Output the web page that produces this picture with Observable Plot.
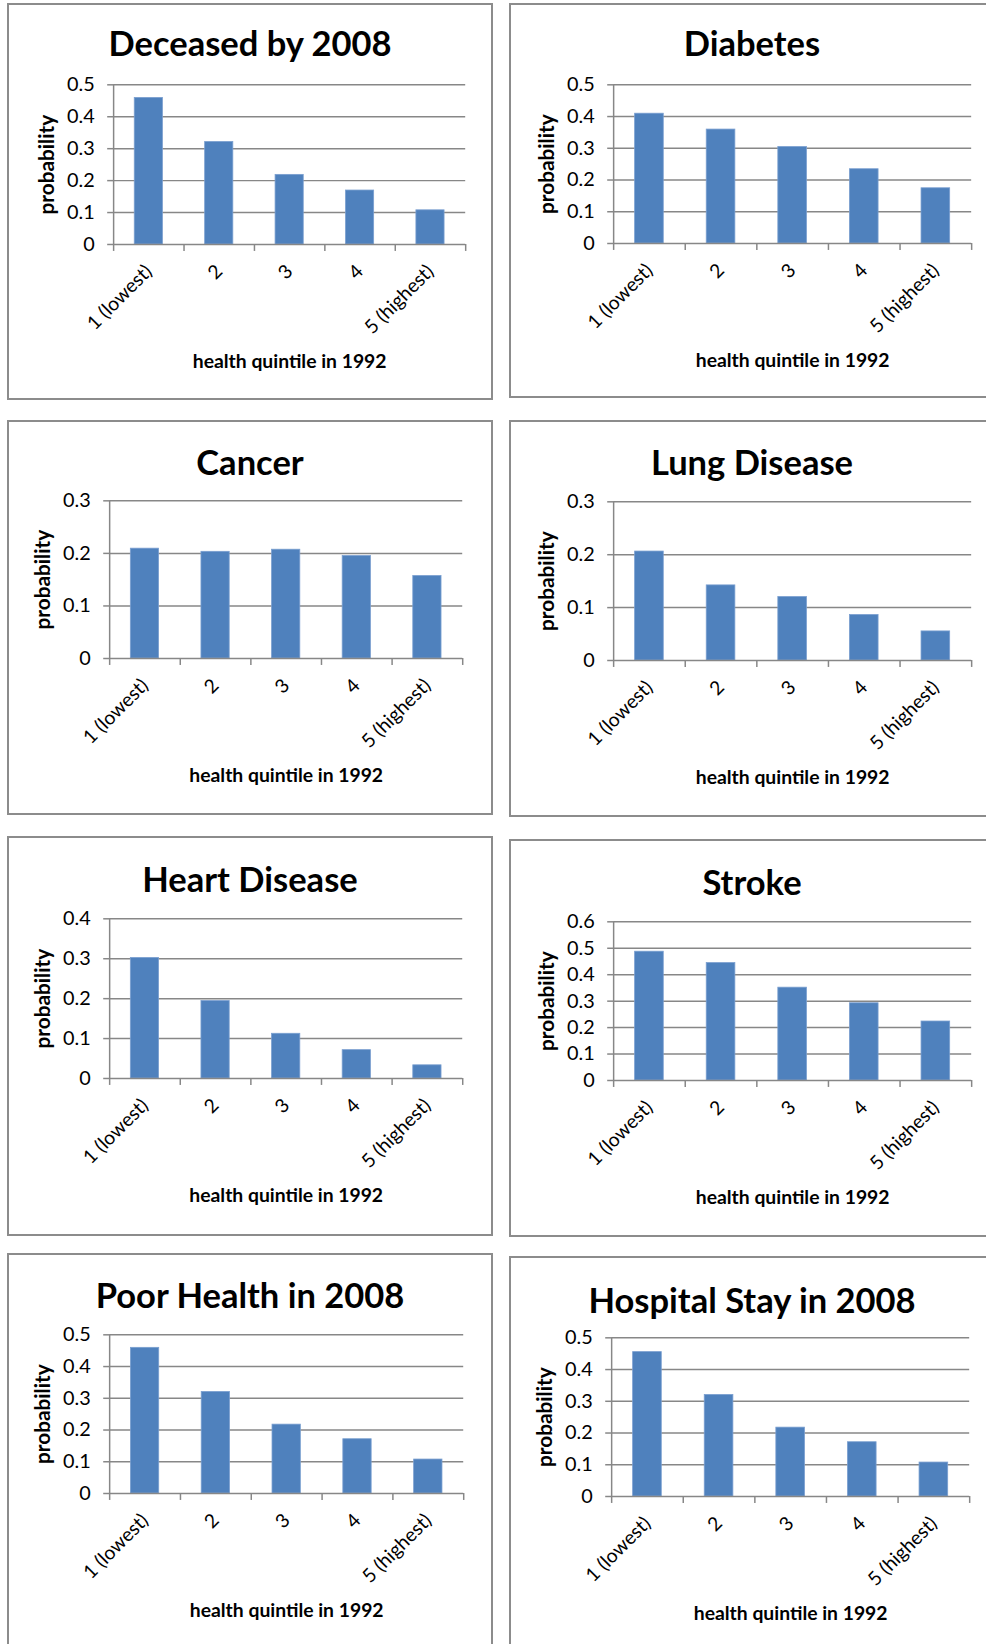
<!DOCTYPE html>
<html>
<head>
<meta charset="utf-8">
<script src="https://cdn.jsdelivr.net/npm/d3@7"></script>
<script src="https://cdn.jsdelivr.net/npm/@observablehq/plot@0.6"></script>
<style>
  html, body { margin: 0; padding: 0; background: #fff; }
  #page { position: relative; width: 986px; height: 1644px; overflow: hidden; background: #fff; font-family: Lato, "Open Sans", sans-serif; }
  .panel { position: absolute; width: 486px; box-sizing: border-box; border: 2px solid #8c8c8c; background: #fff; }
  .panel .title { position: absolute; left: -2px; width: 486px; text-align: center; font: bold 34.5px Lato, sans-serif; line-height: 40px; color: #000; }
  .panel svg { position: absolute; left: -2px; top: -2px; overflow: visible; }
</style>
</head>
<body>
<div id="page"></div>
<script>
// ---- data ----
const categories = ["1 (lowest)", "2", "3", "4", "5 (highest)"];
const titles = ["Deceased by 2008", "Diabetes", "Cancer", "Lung Disease", "Heart Disease", "Stroke", "Poor Health in 2008", "Hospital Stay in 2008"];
const deceased = [0.459, 0.321, 0.218, 0.169, 0.107];
const diabetes = [0.409, 0.359, 0.304, 0.234, 0.174];
const cancer = [0.209, 0.203, 0.207, 0.195, 0.157];
const lungDisease = [0.206, 0.142, 0.120, 0.086, 0.055];
const heartDisease = [0.302, 0.194, 0.112, 0.071, 0.033];
const stroke = [0.487, 0.444, 0.351, 0.292, 0.223];
const poorHealth = [0.459, 0.320, 0.217, 0.171, 0.107];
const hospitalStay = [0.455, 0.320, 0.217, 0.171, 0.107];
const yTickSets = [
  [0, 0.1, 0.2, 0.3, 0.4, 0.5],
  [0, 0.1, 0.2, 0.3, 0.4, 0.5],
  [0, 0.1, 0.2, 0.3],
  [0, 0.1, 0.2, 0.3],
  [0, 0.1, 0.2, 0.3, 0.4],
  [0, 0.1, 0.2, 0.3, 0.4, 0.5, 0.6],
  [0, 0.1, 0.2, 0.3, 0.4, 0.5],
  [0, 0.1, 0.2, 0.3, 0.4, 0.5]
];
const yLabel = "probability";
const xLabel = "health quintile in 1992";
const series = [deceased, diabetes, cancer, lungDisease, heartDisease, stroke, poorHealth, hospitalStay];

// ---- layout (kept separate from data) ----
const layout = [
  {left: 7,   top: 3,    h: 397, ml: 107, right: 462, mt: 82, zero: 243, ty: 40},
  {left: 509, top: 3,    h: 395, ml: 105, right: 466, mt: 82, zero: 242, ty: 40},
  {left: 7,   top: 420,  h: 395, ml: 103, right: 459, mt: 81, zero: 240, ty: 42},
  {left: 509, top: 420,  h: 397, ml: 105, right: 466, mt: 82, zero: 242, ty: 42},
  {left: 7,   top: 836,  h: 400, ml: 103, right: 459, mt: 83, zero: 244, ty: 43},
  {left: 509, top: 839,  h: 398, ml: 105, right: 466, mt: 83, zero: 243, ty: 43},
  {left: 7,   top: 1253, h: 400, ml: 103, right: 460, mt: 82, zero: 242, ty: 42},
  {left: 509, top: 1256, h: 400, ml: 103, right: 464, mt: 82, zero: 242, ty: 44}
];

const barColor = "#4F81BD";
const gridColor = "#878787";
const fmt = d => String(+d.toFixed(1));
const page = document.getElementById("page");

series.forEach((values, k) => {
  const L = layout[k];
  const ticks = yTickSets[k];
  const panel = document.createElement("div");
  panel.className = "panel";
  panel.style.left = L.left + "px";
  panel.style.top = L.top + "px";
  panel.style.height = L.h + "px";

  const svg = Plot.plot({
    width: 486,
    height: L.h,
    marginLeft: L.ml,
    marginRight: 486 - L.right,
    marginTop: L.mt,
    marginBottom: L.h - L.zero,
    style: {fontFamily: "Lato, 'Open Sans', sans-serif", fontSize: "20px", color: "#000", background: "transparent", overflow: "visible"},
    x: {domain: [0, categories.length], axis: null},
    y: {domain: [0, d3.max(ticks)], axis: null},
    marks: [
      Plot.ruleY(ticks.filter(t => t > 0), {stroke: gridColor, strokeWidth: 1.5}),
      Plot.rect(values, {
        x1: (d, i) => i + 0.3,
        x2: (d, i) => i + 0.7,
        y1: 0,
        y2: d => d,
        fill: barColor,
        stroke: "#7a9fd0",
        strokeWidth: 0.8
      }),
      Plot.ruleY([0], {stroke: gridColor, strokeWidth: 1.5}),
      Plot.ruleX([0], {stroke: gridColor, strokeWidth: 1.5}),
      Plot.axisY({ticks, tickSize: 6, tickPadding: 13, tickFormat: fmt, stroke: gridColor, strokeWidth: 1.5, fill: "#000", fontSize: 20, label: null}),
      Plot.axisX({ticks: d3.range(categories.length + 1), tickSize: 7, tickFormat: () => "", stroke: gridColor, strokeWidth: 1.5, label: null}),
      Plot.text(categories, {
        x: (d, i) => i + 0.5,
        y: 0,
        text: d => d,
        rotate: -45,
        textAnchor: "end",
        lineAnchor: "middle",
        dy: 24,
        fontSize: 19.5,
        fill: "#000"
      }),
      Plot.text([yLabel], {text: d => d, frameAnchor: "left", textAnchor: "middle", lineAnchor: "middle", dx: -67, rotate: -90, fontWeight: "bold", fontSize: 21, fill: "#000"}),
      Plot.text([xLabel], {text: d => d, frameAnchor: "bottom", textAnchor: "middle", lineAnchor: "middle", dy: 118, fontWeight: "bold", fontSize: 19.5, fill: "#000"})
    ]
  });
  panel.appendChild(svg);

  const title = document.createElement("div");
  title.className = "title";
  title.textContent = titles[k];
  title.style.top = (L.ty - 2 - 20) + "px";
  panel.appendChild(title);

  page.appendChild(panel);
});
</script>
</body>
</html>
